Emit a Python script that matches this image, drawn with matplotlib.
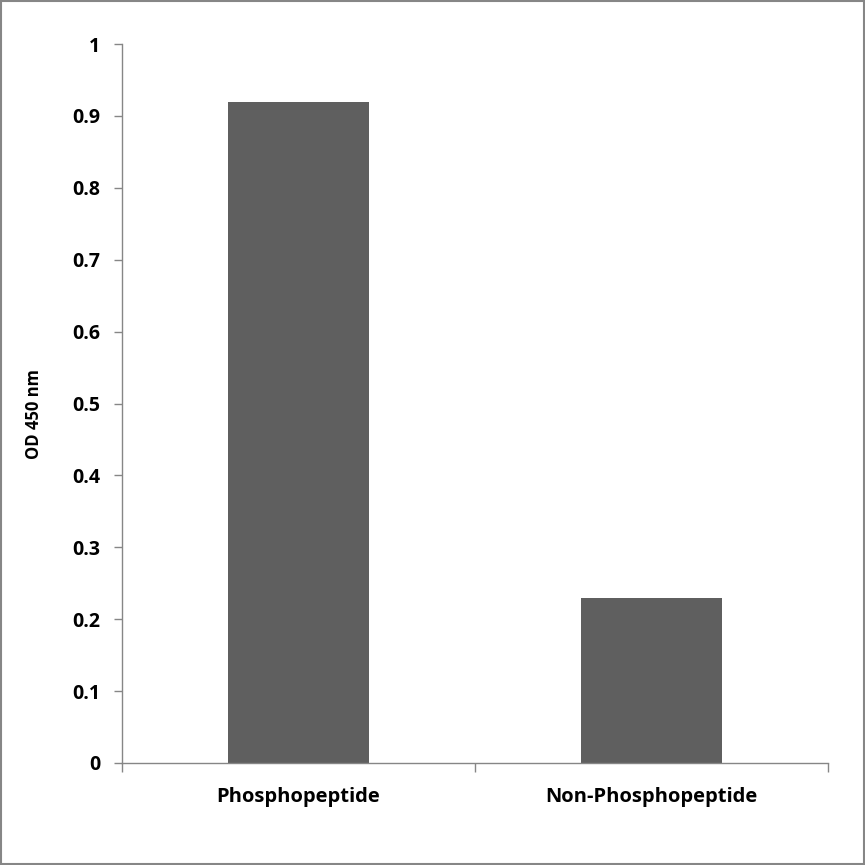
import matplotlib
matplotlib.use('Agg')
import matplotlib.pyplot as plt
from matplotlib.patches import Rectangle

categories = ['Phosphopeptide', 'Non-Phosphopeptide']
od_values = [0.92, 0.23]
y_ticks = [0, 0.1, 0.2, 0.3, 0.4, 0.5, 0.6, 0.7, 0.8, 0.9, 1]
y_labels = ['0', '0.1', '0.2', '0.3', '0.4', '0.5', '0.6', '0.7', '0.8', '0.9', '1']

plt.rcParams['font.family'] = ['Open Sans', 'DejaVu Sans']

W = H = 865
fig = plt.figure(figsize=(8.65, 8.65), dpi=100)
ax = fig.add_axes([122 / W, (H - 763) / H, (828 - 122) / W, (763 - 44) / H])

x = list(range(len(categories)))
ax.bar(x, od_values, width=0.4, color='#5f5f5f', zorder=2)

ax.set_xlim(-0.5, 1.5)
ax.set_ylim(0, 1)
ax.set_yticks(y_ticks)
ax.set_yticklabels(y_labels, fontsize=14, fontweight='bold')
ax.set_xticks([-0.5, 0.5, 1.5])
ax.set_xticklabels([])
ax.set_xticks(x, minor=True)
ax.set_xticklabels(categories, minor=True, fontsize=14.5, fontweight='bold')
ax.tick_params(axis='x', which='minor', length=0, pad=17)
ax.tick_params(axis='x', which='major', length=6.5, direction='out', color='#868686', width=1)
ax.tick_params(axis='y', length=5.8, direction='out', color='#868686', width=1, pad=10)

for s in ['top', 'right']:
    ax.spines[s].set_visible(False)
for s in ['left', 'bottom']:
    ax.spines[s].set_color('#868686')
    ax.spines[s].set_linewidth(1)

ax.set_ylabel('OD 450 nm', fontsize=12, fontweight='bold')
ax.yaxis.set_label_coords(-0.1125, 0.485)

fig.patches.append(Rectangle((0.001, 0.001), 0.998, 0.998, transform=fig.transFigure,
                             fill=False, edgecolor='#868686', linewidth=1.5))

fig.savefig('out.png', dpi=100)
